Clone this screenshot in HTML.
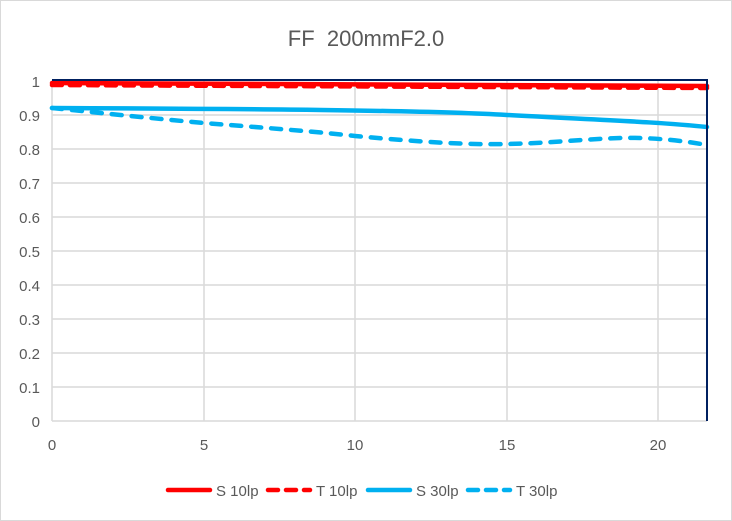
<!DOCTYPE html>
<html><head><meta charset="utf-8"><style>
body{margin:0;background:#fff}
svg{display:block}
text{font-family:"Liberation Sans",sans-serif;fill:#595959}
</style></head><body>
<svg width="732" height="521" viewBox="0 0 732 521">
<rect x="0.5" y="0.5" width="731" height="520" fill="#fff" stroke="#d9d9d9"/>
<text x="366" y="46" font-size="22" text-anchor="middle" xml:space="preserve">FF  200mmF2.0</text>
<g stroke="#d9d9d9" stroke-width="1.5">
<line x1="52" y1="115" x2="707" y2="115"/><line x1="52" y1="149" x2="707" y2="149"/>
<line x1="52" y1="183" x2="707" y2="183"/><line x1="52" y1="217" x2="707" y2="217"/>
<line x1="52" y1="251" x2="707" y2="251"/><line x1="52" y1="285" x2="707" y2="285"/>
<line x1="52" y1="319" x2="707" y2="319"/><line x1="52" y1="353" x2="707" y2="353"/>
<line x1="52" y1="387" x2="707" y2="387"/><line x1="52" y1="421" x2="707" y2="421"/>
<line x1="52" y1="81" x2="52" y2="421"/><line x1="204" y1="81" x2="204" y2="421"/>
<line x1="355" y1="81" x2="355" y2="421"/><line x1="507" y1="81" x2="507" y2="421"/>
<line x1="658" y1="81" x2="658" y2="421"/>
</g>
<g font-size="15" text-anchor="end">
<text x="40" y="87">1</text><text x="40" y="121">0.9</text><text x="40" y="155">0.8</text>
<text x="40" y="189">0.7</text><text x="40" y="223">0.6</text><text x="40" y="257">0.5</text>
<text x="40" y="291">0.4</text><text x="40" y="325">0.3</text><text x="40" y="359">0.2</text>
<text x="40" y="393">0.1</text><text x="40" y="427">0</text>
</g>
<g font-size="15" text-anchor="middle">
<text x="52" y="450">0</text><text x="204" y="450">5</text><text x="355" y="450">10</text>
<text x="507" y="450">15</text><text x="658" y="450">20</text>
</g>
<g fill="none" stroke-width="4.5" stroke-linecap="round">
<path d="M52 83 C250 84 500 85 707 86" stroke="#ff0000"/>
<path d="M52 85 C250 86 500 87 707 88" stroke="#ff0000" stroke-dasharray="10 8"/>
<path d="M52 108 C250 109 420 110 507 115 C600 120 660 122 707 127" stroke="#00b0f0"/>
<path d="M52 108 C120 115 170 120 204 123 C280 129 320 132 355 136 C420 142 470 145 507 144 C560 143 600 137 640 138 C670 139 690 142 707 145" stroke="#00b0f0" stroke-dasharray="10 10"/>
</g>
<g stroke="#002060" stroke-width="2"><line x1="52" y1="80" x2="708" y2="80"/><line x1="707" y1="80" x2="707" y2="421"/></g>
<g stroke-width="4.5" stroke-linecap="round">
<line x1="168" y1="490" x2="210" y2="490" stroke="#ff0000"/>
<line x1="268" y1="490" x2="310" y2="490" stroke="#ff0000" stroke-dasharray="10 8"/>
<line x1="368" y1="490" x2="410" y2="490" stroke="#00b0f0"/>
<line x1="468" y1="490" x2="510" y2="490" stroke="#00b0f0" stroke-dasharray="10 8"/>
</g>
<g font-size="15">
<text x="216" y="496">S 10lp</text><text x="316" y="496">T 10lp</text>
<text x="416" y="496">S 30lp</text><text x="516" y="496">T 30lp</text>
</g>
</svg>
</body></html>
